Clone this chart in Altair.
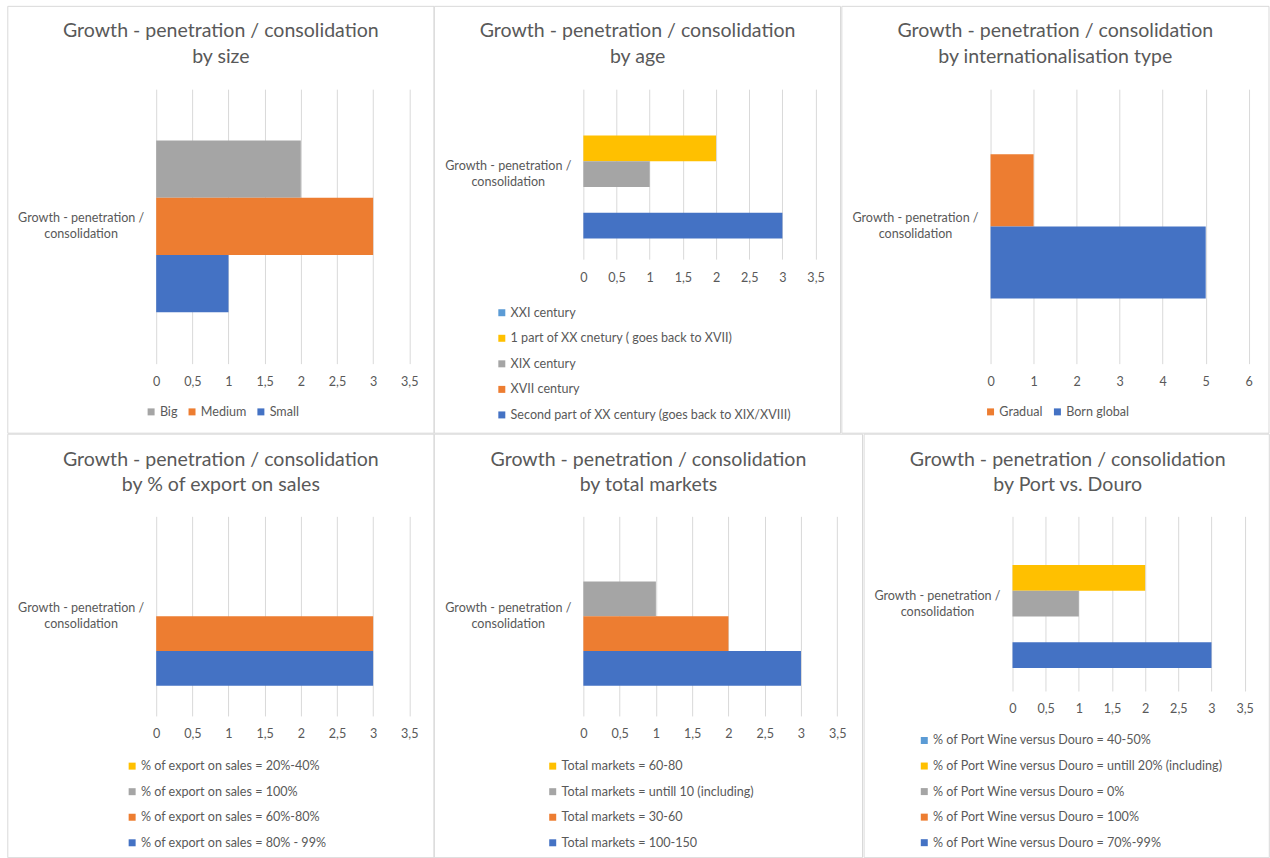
import altair as alt
import pandas as pd

# Shared category shown on every vertical axis
CATEGORY = "Growth - penetration / consolidation"

# Office-style palette
BLUE = "#4472C4"
ORANGE = "#ED7D31"
GRAY = "#A5A5A5"
YELLOW = "#FFC000"
LIGHT_BLUE = "#5B9BD5"

# --- by size ---
size_series = ["Big", "Medium", "Small"]
size_values = [2, 3, 1]
size_colors = [GRAY, ORANGE, BLUE]

# --- by age ---
age_series = [
    "XXI century",
    "1 part of XX cnetury ( goes back to XVII)",
    "XIX century",
    "XVII century",
    "Second part of XX century (goes back to XIX/XVIII)",
]
age_values = [0, 2, 1, 0, 3]
age_colors = [LIGHT_BLUE, YELLOW, GRAY, ORANGE, BLUE]

# --- by internationalisation type ---
intl_series = ["Gradual", "Born global"]
intl_values = [1, 5]
intl_colors = [ORANGE, BLUE]

# --- by % of export on sales ---
export_series = [
    "% of export on sales = 20%-40%",
    "% of export on sales = 100%",
    "% of export on sales = 60%-80%",
    "% of export on sales = 80% - 99%",
]
export_values = [0, 0, 3, 3]
export_colors = [YELLOW, GRAY, ORANGE, BLUE]

# --- by total markets ---
markets_series = [
    "Total markets = 60-80",
    "Total markets = untill 10 (including)",
    "Total markets = 30-60",
    "Total markets = 100-150",
]
markets_values = [0, 1, 2, 3]
markets_colors = [YELLOW, GRAY, ORANGE, BLUE]

# --- by Port vs. Douro ---
port_series = [
    "% of Port Wine versus Douro = 40-50%",
    "% of Port Wine versus Douro = untill 20% (including)",
    "% of Port Wine versus Douro = 0%",
    "% of Port Wine versus Douro = 100%",
    "% of Port Wine versus Douro = 70%-99%",
]
port_values = [0, 2, 1, 0, 3]
port_colors = [LIGHT_BLUE, YELLOW, GRAY, ORANGE, BLUE]

FONT = "Lato"
TEXT = "#595959"
GRID = "#D9D9D9"
LABEL_SIZE = 12.6
TITLE_SIZE = 19.6

INDEPENDENT = dict(x="independent", y="independent",
                   yOffset="independent", color="independent")


def panel(subtitle, series, values, colors, x_max, x_step, width, height,
          pad_outer, title_dx, title_offset, legend_dir, legend_x, legend_y,
          frame):
    df = pd.DataFrame({
        "category": [CATEGORY] * len(series),
        "series": series,
        "value": values,
    })
    n_ticks = int(round(x_max / x_step)) + 1
    tick_values = [i * x_step for i in range(n_ticks)]

    bars = alt.Chart(df).mark_bar().encode(
        x=alt.X(
            "value:Q",
            scale=alt.Scale(domain=[0, x_max], nice=False, zero=True),
            axis=alt.Axis(
                values=tick_values, title=None, grid=True, gridColor=GRID,
                gridWidth=1, domain=False, ticks=False, tickSize=0,
                labelFlush=False, labelOverlap=False,
                labelPadding=12, labelFontSize=LABEL_SIZE, labelColor=TEXT,
                labelFont=FONT,
                labelExpr="replace(format(datum.value, '~g'), '.', ',')",
            ),
        ),
        y=alt.Y(
            "category:N",
            scale=alt.Scale(paddingOuter=pad_outer, paddingInner=0),
            axis=alt.Axis(
                title=None, domain=False, ticks=False, tickSize=0, grid=False,
                labelAlign="center", labelBaseline="middle", labelPadding=75.7,
                labelOffset=-8, labelLineHeight=16, labelFontSize=LABEL_SIZE,
                labelColor=TEXT, labelFont=FONT, labelLimit=300,
                labelExpr="[substring(datum.label, 0, 22), substring(datum.label, 23)]",
            ),
        ),
        yOffset=alt.YOffset(
            "series:N", sort=series,
            scale=alt.Scale(paddingInner=0, paddingOuter=0),
        ),
        color=alt.Color(
            "series:N", sort=series,
            scale=alt.Scale(domain=series, range=colors),
            legend=alt.Legend(
                title=None, orient="none", direction=legend_dir,
                legendX=legend_x - 3, legendY=legend_y,
                symbolType="square", symbolSize=49, symbolStrokeWidth=0,
                labelFontSize=LABEL_SIZE, labelColor=TEXT, labelFont=FONT,
                labelLimit=400, labelOffset=2.5, rowPadding=12.6,
                columnPadding=8,
            ),
        ),
    )

    x0, x1, y0, y1 = frame
    border = alt.Chart(alt.Data(values=[{"frame": 1}])).mark_rect(
        fillOpacity=0, stroke=GRID, strokeWidth=1
    ).encode(
        x=alt.value(x0), x2=alt.value(x1), y=alt.value(y0), y2=alt.value(y1)
    )

    return alt.layer(border, bars).properties(
        width=width,
        height=height,
        title=alt.TitleParams(
            text=["Growth - penetration / consolidation", subtitle],
            anchor="middle", frame="group", dx=title_dx, offset=title_offset,
            font=FONT, fontSize=TITLE_SIZE, fontWeight="normal", color=TEXT,
            lineHeight=25.5,
        ),
    )


p_size = panel("by size", size_series, size_values, size_colors,
               3.5, 0.5, 253.6, 275, 0.299, -62, -61.7, "horizontal", -8.4, 317,
               (-148.7, 278.3, -83, 344.7))
p_age = panel("by age", age_series, age_values, age_colors,
              3.5, 0.5, 232.7, 170.3, 0.16, -62, -61.7, "vertical", -85, 217.7,
              (-149.3, 257.7, -83, 344.7))
p_intl = panel("by internationalisation type", intl_series, intl_values,
               intl_colors, 6, 1, 258.7, 275, 0.452, -64.5, -61.7, "horizontal",
               -3.3, 317, (-149, 279, -83, 344.7))
p_export = panel("by % of export on sales", export_series, export_values,
                 export_colors, 3.5, 0.5, 253.6, 200, 0.218, -62, -62.1,
                 "vertical", -27.4, 244, (-148.7, 278.3, -82.3, 342))
p_markets = panel("by total markets", markets_series, markets_values,
                  markets_colors, 3.5, 0.5, 254.4, 200, 0.218, -62, -62.1,
                  "vertical", -34, 244, (-149.3, 279.7, -82.3, 342))
p_port = panel("by Port vs. Douro", port_series, port_values, port_colors,
               3.5, 0.5, 232.6, 175, 0.178, -61, -62.1, "vertical", -91.7, 218.3,
               (-148.7, 257.3, -82.3, 342))

top_row = alt.hconcat(p_size, p_age, p_intl, spacing=-1, bounds="full") \
    .resolve_scale(**INDEPENDENT).resolve_legend(color="independent")
bottom_row = alt.hconcat(p_export, p_markets, p_port, spacing=-1, bounds="full") \
    .resolve_scale(**INDEPENDENT).resolve_legend(color="independent")

chart = alt.vconcat(top_row, bottom_row, spacing=-1, bounds="full") \
    .resolve_scale(**INDEPENDENT).resolve_legend(color="independent") \
    .configure(
        padding={"left": 6.5, "top": 4.5, "right": 0, "bottom": 0},
        background="white",
    ).configure_view(stroke=None)

chart.save("out.html", embed_options={"renderer": "svg", "actions": False})
